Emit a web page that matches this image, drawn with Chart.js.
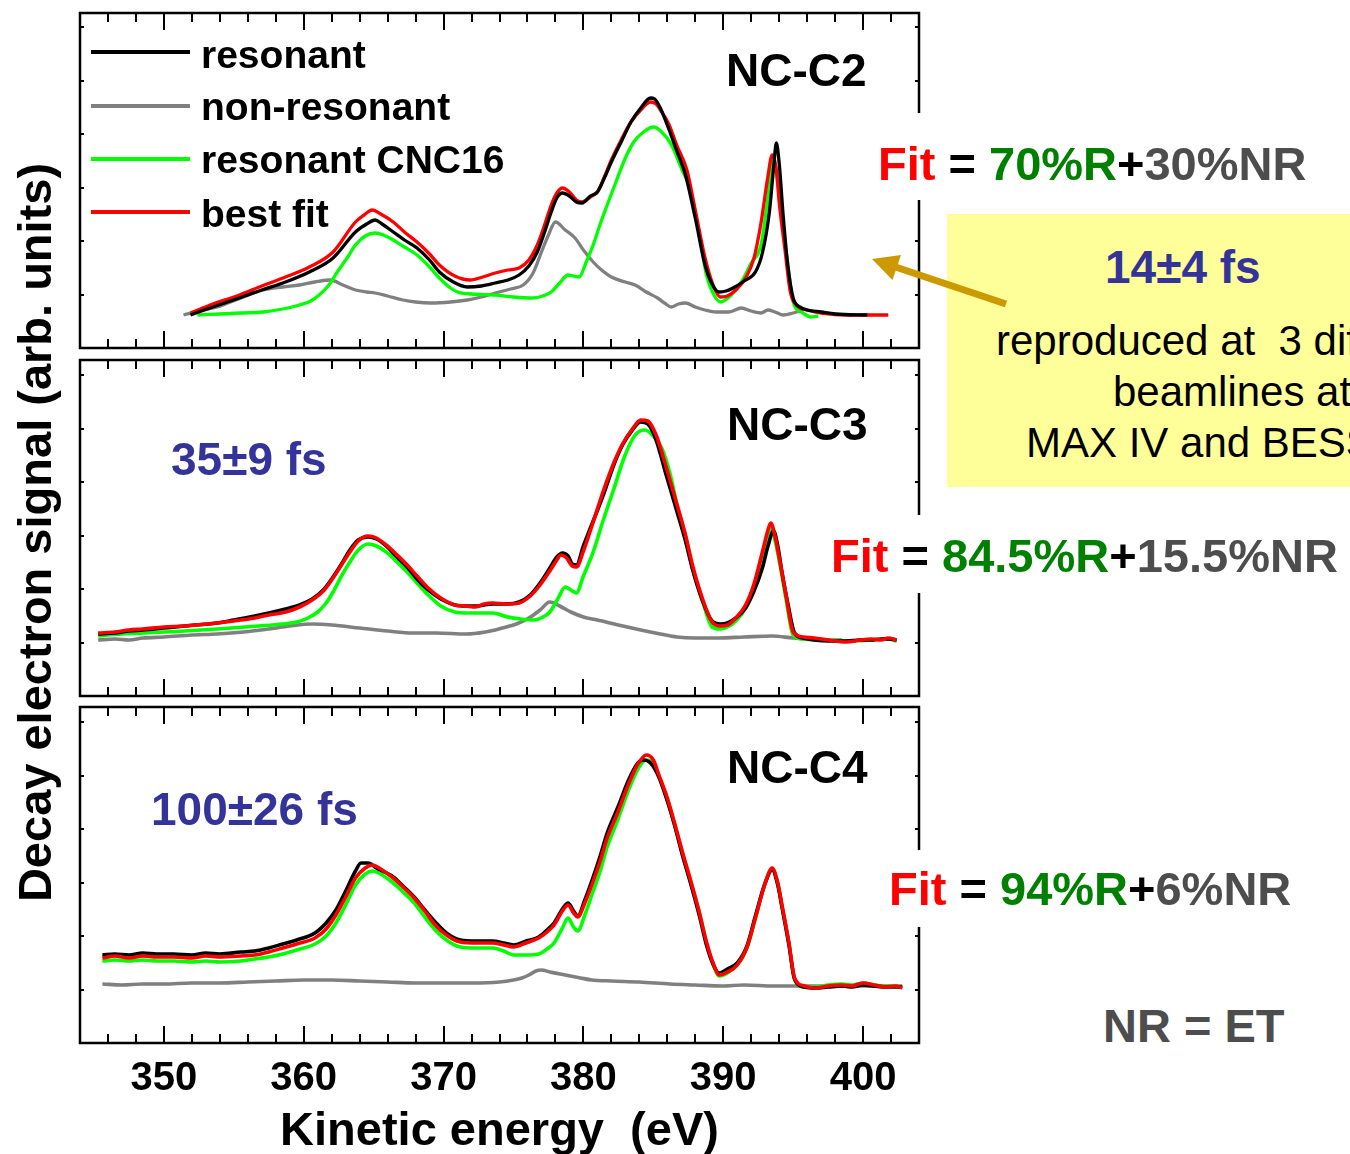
<!DOCTYPE html>
<html>
<head>
<meta charset="utf-8">
<script src="https://cdn.jsdelivr.net/npm/chart.js@4.4.1/dist/chart.umd.min.js"></script>
<style>
  html, body { margin: 0; padding: 0; background: #fff; }
  body { width: 1350px; height: 1154px; position: relative; overflow: hidden;
         font-family: "Liberation Sans", Arial, sans-serif; }
  canvas { position: absolute; }
  .t { position: absolute; white-space: pre; line-height: 1; }
  .b { font-weight: bold; }
  .blue { color: #333399; }
  .red { color: #ff0000; }
  .green { color: #008000; }
  .grey { color: #4d4d4d; }
  .white { position: absolute; background: #fff; }
  .key { position: absolute; left: 91px; width: 99px; height: 4px; }
</style>
</head>
<body>

<canvas id="c2" width="845" height="341" style="left:77px;top:10px"></canvas>
<canvas id="c3" width="845" height="342" style="left:77px;top:357px"></canvas>
<canvas id="c4" width="845" height="399" style="left:77px;top:704px"></canvas>

<!-- legend of the top panel -->
<div class="key" style="top:50px;background:#000"></div>
<div class="key" style="top:104px;background:#808080"></div>
<div class="key" style="top:157px;background:#00ff00"></div>
<div class="key" style="top:210px;background:#ff0000"></div>
<div class="t b" style="font-size:39px;left:201px;top:35px">resonant</div>
<div class="t b" style="font-size:39px;left:201px;top:87px">non-resonant</div>
<div class="t b" style="font-size:39px;left:201px;top:140px">resonant CNC16</div>
<div class="t b" style="font-size:39px;left:201px;top:194px">best fit</div>

<div class="t b" style="font-size:46px;left:726px;top:47px">NC-C2</div>
<div class="t b" style="font-size:46px;left:727px;top:401px">NC-C3</div>
<div class="t b" style="font-size:46px;left:727px;top:744px">NC-C4</div>

<div class="t b blue" style="font-size:46px;left:171px;top:436px">35±9 fs</div>
<div class="t b blue" style="font-size:46px;left:151px;top:786px">100±26 fs</div>

<!-- fit fractions, on white so they break the right frame -->
<div class="white" style="left:905px;top:113px;width:445px;height:87px"></div>
<div class="white" style="left:905px;top:515px;width:445px;height:78px"></div>
<div class="white" style="left:905px;top:850px;width:445px;height:77px"></div>
<div class="t b" style="font-size:47px;left:878px;top:140px"><span class="red">Fit</span> = <span class="green">70%R</span>+<span class="grey">30%NR</span></div>
<div class="t b" style="font-size:47px;left:831px;top:532px"><span class="red">Fit</span> = <span class="green">84.5%R</span>+<span class="grey">15.5%NR</span></div>
<div class="t b" style="font-size:47px;left:889px;top:865px"><span class="red">Fit</span> = <span class="green">94%R</span>+<span class="grey">6%NR</span></div>
<div class="t b grey" style="font-size:47px;left:1103px;top:1002px">NR = ET</div>

<!-- note box -->
<div style="position:absolute;left:947px;top:214px;width:420px;height:273px;background:#ffff99"></div>
<div class="t b blue" style="font-size:46px;left:1105px;top:244px">14±4 fs</div>
<div class="t" style="font-size:42px;left:996px;top:320px">reproduced at  3 different</div>
<div class="t" style="font-size:42px;left:1113px;top:371px">beamlines at</div>
<div class="t" style="font-size:42px;left:1026px;top:422px">MAX IV and BESSY</div>

<svg width="1350" height="1154" style="position:absolute;left:0;top:0">
  <line x1="1006" y1="304" x2="894" y2="266.5" stroke="#cc9900" stroke-width="7"/>
  <polygon points="872,259 901,255 892.5,280" fill="#cc9900"/>
</svg>

<div class="t b" style="font-size:47px;width:800px;height:47px;line-height:47px;text-align:center;left:-366px;top:509px;transform:rotate(-90deg)">Decay electron signal (arb. units)</div>
<div class="t b" style="font-size:47px;width:999px;text-align:center;left:0;top:1105px">Kinetic energy  (eV)</div>

<script>
// kinetic energy window shared by all panels (eV)
const eMin = 344;
const eMax = 404;
const tickLabels = [350, 360, 370, 380, 390, 400];

// NC-C2: [kinetic energy (eV), signal (arb. units)]
const c2Resonant = [[351.9,33],[353.5,41],[355.4,50],[357,58],[358.7,66],[360.4,76],[362.1,90],[363.7,116],[364.5,124],[365.1,128],[365.6,124],[366.4,116],[367.2,108],[368.1,100],[369,88],[369.7,76],[370.7,66],[371.7,61],[372.7,62],[373.7,65],[374.6,68],[375.4,73],[376.1,82],[376.7,96],[377.2,115],[377.7,136],[378.1,150],[378.5,155],[379,152],[379.5,146],[379.9,145],[380.5,152],[381,156],[381.5,170],[382,186],[382.7,206],[383.4,226],[384.1,240],[384.8,250],[385.1,249],[385.5,240],[386,223],[386.6,200],[387.3,173],[388,130],[388.7,83],[389.2,64],[389.7,56],[390.2,57],[390.7,60],[391.5,67],[392.3,76],[392.8,95],[393.3,136],[393.6,180],[393.8,205],[394,185],[394.3,130],[394.6,85],[395,50],[395.5,41],[396,38],[397,36],[398,34],[400.3,33]];
const c2NonRes = [[351.4,33],[352.5,37],[353.8,41],[355.5,50],[357.1,58],[358.5,61],[359.7,63],[360.8,66],[361.9,68],[362.8,63],[363.7,58],[364.5,56],[365.1,55],[366,52],[367.1,48],[368,46],[369.1,45],[370.5,46],[371.7,48],[372.7,51],[373.7,55],[374.8,59],[375.7,63],[376.4,75],[377,96],[377.5,113],[378,126],[378.7,118],[379.4,110],[380,98],[380.7,86],[381.3,78],[382,71],[383,66],[383.7,63],[384.5,56],[385.3,50],[385.8,45],[386.3,41],[386.8,44],[387.3,45],[388,41],[388.7,38],[389.5,36],[390.4,36],[391.3,40],[392,37],[392.7,35],[393.2,38],[393.7,36],[394.3,33],[395,35],[395.7,38]];
const c2Cnc16 = [[352.4,33],[354,34],[355.5,35],[357.1,36],[358.5,39],[359.7,43],[360.5,47],[361.1,53],[361.8,63],[362.4,76],[363.1,90],[363.7,103],[364.4,112],[365.1,115],[365.7,113],[366.4,108],[367.2,101],[368.1,93],[369,81],[369.7,70],[370.4,61],[371,56],[372,54],[373.7,53],[375,51],[376.4,50],[377.1,52],[377.7,56],[378.3,65],[378.9,73],[379.3,72],[379.7,71],[380.2,86],[380.7,103],[381.2,124],[381.7,143],[382.3,165],[383,190],[383.6,206],[384.3,216],[385,221],[385.6,216],[386.3,203],[387,180],[387.7,156],[388.2,120],[388.8,73],[389.3,54],[389.8,46],[390.5,52],[391.3,66],[392,85],[392.7,103],[393.1,140],[393.6,188],[393.9,165],[394.2,130],[394.6,85],[395,46],[395.6,36],[396.3,31],[396.8,32]];
const c2Fit = [[351.9,35],[353.5,44],[355.4,53],[357,62],[358.7,71],[360.4,81],[362.1,96],[363.7,126],[364.4,134],[364.9,138],[365.5,134],[366.4,126],[367.2,116],[368.1,106],[369,94],[369.7,83],[370.8,72],[371.9,68],[372.8,71],[373.7,75],[374.6,78],[375.4,80],[376.1,88],[376.7,103],[377.2,122],[377.7,143],[378.1,155],[378.5,160],[379,156],[379.5,148],[379.9,146],[380.5,151],[381,156],[381.5,171],[382,188],[382.7,208],[383.4,226],[384.1,238],[384.8,246],[385.2,244],[385.6,236],[386.1,224],[386.7,202],[387.4,178],[388,138],[388.7,90],[389.3,62],[389.8,51],[390.3,52],[390.9,58],[391.6,70],[392.2,90],[392.7,125],[393.2,172],[393.5,193],[393.8,178],[394,146],[394.4,100],[394.8,56],[395.3,42],[396,38],[397,35],[399,33],[401.8,33]];

// NC-C3
const c3Resonant = [[345.3,62],[346.5,63],[347.5,65],[348.5,66],[350,68],[351.5,70],[353.8,73],[355,76],[356.5,80],[357.5,83],[358.7,87],[359.7,91],[360.6,97],[361.4,106],[362.1,119],[362.7,132],[363.3,146],[363.9,156],[364.6,159],[365.2,157],[365.9,150],[366.6,140],[367.4,129],[368.1,117],[368.9,106],[369.8,97],[370.8,91],[371.6,90],[372.3,90],[372.9,91],[373.5,92],[374.5,92],[375.4,94],[376.2,101],[376.9,113],[377.6,128],[378.1,139],[378.5,143],[378.9,140],[379.2,132],[379.5,131],[380,150],[380.5,168],[380.9,182],[381.4,200],[382.2,232],[382.8,251],[383.5,266],[384.1,274],[384.6,272],[385.2,256],[385.9,222],[386.7,184],[387.3,155],[387.8,127],[388.5,96],[389.2,75],[389.8,72],[390.3,73],[390.9,78],[391.6,88],[392.2,105],[392.8,128],[393.2,150],[393.6,165],[393.9,150],[394.2,124],[394.6,94],[395.1,63],[395.7,58],[396.5,56],[397.5,55],[398.8,55],[399.8,56],[400.6,56],[401.3,57],[401.8,57],[402.4,56]];
const c3NonRes = [[345.3,56],[346.5,57],[347.5,56],[348.5,58],[350,59],[352,61],[353.8,62],[355.7,64],[357.5,67],[359,70],[360.6,72],[362,71],[364,68],[366,65],[367.8,63],[369.5,63],[371.6,62],[373,64],[374.2,68],[375.2,72],[376.1,78],[376.9,86],[377.6,94],[378.3,90],[379.1,84],[380,79],[381,76],[382.5,71],[384.1,66],[385.5,62],[386.7,59],[388,58],[389.7,58],[391.5,59],[393.5,60],[395,58],[397.3,56],[398.5,56]];
const c3Cnc16 = [[345.3,60],[347,62],[348.5,63],[350,64],[351.5,65],[353.8,67],[356.8,70],[358.5,72],[359.5,74],[360.3,78],[361,84],[361.6,93],[362.1,104],[362.7,120],[363.3,134],[363.9,146],[364.6,152],[365.2,150],[365.9,144],[366.6,135],[367.4,124],[368.1,113],[368.9,101],[369.8,90],[370.8,84],[371.8,83],[372.7,83],[373.5,83],[374.6,79],[375.5,77],[376.5,76],[377.1,79],[377.6,84],[378.2,98],[378.7,109],[379.1,106],[379.5,103],[380,120],[380.7,144],[381.4,175],[382.2,208],[382.9,238],[383.7,261],[384.4,266],[385,260],[385.6,248],[386.2,222],[386.7,191],[387.3,160],[387.8,128],[388.5,96],[389.2,69],[389.8,67],[390.3,69],[390.9,75],[391.6,88],[392.2,110],[392.8,138],[393.2,160],[393.4,168],[393.7,156],[394.1,128],[394.5,96],[395,61],[395.7,57],[397.3,56],[399,55],[400.5,56],[401.8,57],[402.4,55]];
const c3Fit = [[345.3,63],[346.5,64],[347.5,66],[348.5,67],[350,69],[351.5,70],[353.8,73],[355,75],[356.5,78],[357.5,81],[358.7,84],[359.7,89],[360.6,96],[361.4,105],[362.1,118],[362.7,131],[363.3,144],[363.9,155],[364.6,160],[365.2,158],[365.9,151],[366.6,142],[367.4,131],[368.1,120],[368.9,108],[369.8,98],[370.8,91],[371.6,90],[372.3,89],[372.9,92],[373.5,93],[374.5,92],[375.4,93],[376.2,100],[376.9,111],[377.6,125],[378.1,136],[378.4,141],[378.8,138],[379.2,130],[379.5,129],[380,145],[380.7,174],[381.4,204],[382.2,234],[382.8,252],[383.5,267],[384.1,276],[384.6,275],[385.2,261],[385.9,230],[386.7,191],[387.3,161],[387.8,131],[388.5,98],[389.2,74],[389.8,70],[390.3,71],[390.9,78],[391.6,91],[392.2,112],[392.8,144],[393.2,166],[393.4,173],[393.7,160],[394.1,131],[394.5,100],[395,64],[395.7,59],[396.5,58],[397.5,56],[398.8,54],[399.8,56],[400.6,57],[401.3,56],[401.8,58],[402.4,56]];

// NC-C4
const c4Resonant = [[345.6,88],[346.5,89],[347.5,88],[348.5,90],[349.5,89],[350.7,89],[352,88],[353,90],[354,89],[355.5,91],[356.5,92],[357.5,95],[358.5,99],[359.5,103],[360.8,110],[361.6,120],[362.3,133],[363,152],[363.7,172],[364.1,180],[364.6,180],[365.2,175],[366.4,166],[367.1,157],[367.9,146],[368.6,134],[369.4,121],[370.3,109],[371.2,103],[372.3,102],[373.5,102],[374.3,100],[375,98],[375.9,102],[376.8,106],[377.4,113],[377.9,120],[378.5,134],[378.9,140],[379.3,132],[379.6,127],[380.1,143],[380.6,162],[381.2,187],[381.7,210],[382.5,237],[383.2,262],[383.9,280],[384.3,283],[384.8,280],[385.4,266],[386,242],[386.5,219],[387.1,187],[387.7,158],[388.3,127],[388.8,98],[389.3,78],[389.7,70],[390.3,74],[391,80],[391.7,97],[392.3,127],[393,160],[393.5,173],[393.9,158],[394.2,136],[394.7,98],[395.1,64],[395.8,56],[396.6,55],[397.5,56],[398.5,57],[399.2,56],[400,58],[400.8,57],[401.6,56],[402.3,56],[402.8,56]];
const c4NonRes = [[345.6,59],[347,58],[348.5,59],[350,59],[352,60],[354,60],[356,61],[358,62],[360,63],[362,63],[364,62],[366,61],[368,60],[370,60],[372,60],[374,61],[375,63],[375.6,65],[376.1,68],[376.6,72],[377,73],[377.6,71],[378.7,68],[379.8,65],[380.6,63],[382,62],[384,61],[386.2,59],[388,58],[389.9,57],[391.5,58],[393.6,57],[395.5,57],[397,57],[399,57],[401,57],[402.8,57]];
const c4Cnc16 = [[345.6,82],[346.5,83],[347.5,82],[348.5,83],[349.5,82],[350.7,82],[352,81],[353,82],[354,81],[355.5,82],[356.5,84],[357.5,86],[358.5,89],[359.5,93],[360.8,99],[361.6,107],[362.3,120],[363,138],[363.7,158],[364.4,169],[364.9,172],[365.5,169],[366.4,160],[367.1,151],[367.9,140],[368.6,127],[369.4,113],[370.3,102],[371.2,96],[372.3,95],[373.5,95],[374.3,92],[375,88],[375.9,88],[376.8,89],[377.4,94],[377.9,100],[378.5,115],[378.9,125],[379.3,116],[379.6,112],[380.1,128],[380.6,148],[381.2,172],[381.7,196],[382.5,225],[383.2,252],[383.9,274],[384.5,283],[385,280],[385.4,266],[386,244],[386.5,219],[387.1,189],[387.7,160],[388.3,130],[388.8,100],[389.3,78],[389.7,67],[390.3,70],[391,78],[391.7,95],[392.3,125],[393,160],[393.5,174],[393.9,160],[394.2,137],[394.7,99],[395.1,64],[395.8,56],[396.6,56],[397.5,58],[398.5,59],[399.2,58],[400,60],[400.8,58],[401.6,57],[402.3,57],[402.8,56]];
const c4Fit = [[345.6,85],[346.5,87],[347.5,85],[348.5,87],[349.5,86],[350.7,86],[352,85],[353,87],[354,86],[355.5,87],[356.5,88],[357.5,91],[358.5,95],[359.5,99],[360.8,105],[361.6,114],[362.3,128],[363,146],[363.7,165],[364.4,175],[364.9,178],[365.5,174],[366.4,165],[367.1,156],[367.9,145],[368.6,133],[369.4,118],[370.3,107],[371.2,101],[372.3,100],[373.5,100],[374.3,98],[375,96],[375.9,100],[376.8,105],[377.4,111],[377.9,118],[378.5,132],[378.9,138],[379.3,130],[379.6,126],[380.1,140],[380.6,158],[381.2,182],[381.7,205],[382.5,232],[383.2,258],[383.9,279],[384.5,288],[385,283],[385.4,268],[386,245],[386.5,221],[387.1,190],[387.7,161],[388.3,130],[388.8,101],[389.3,79],[389.7,68],[390.3,71],[391,78],[391.7,96],[392.3,125],[393,160],[393.5,175],[393.9,160],[394.2,138],[394.7,100],[395.1,65],[395.8,57],[396.6,55],[397.5,57],[398.5,58],[399.2,57],[400,60],[400.8,58],[401.6,56],[402.3,57],[402.8,55]];

const FONT = '"Liberation Sans", Arial, sans-serif';

// closed frame with inward ticks on all four sides
const frameTicks = {
  id: 'frameTicks',
  afterDatasetsDraw(chart) {
    const { ctx, chartArea: a, scales: { x, y } } = chart;
    ctx.save();
    ctx.strokeStyle = '#000';
    ctx.lineWidth = 2.5;
    ctx.strokeRect(a.left, a.top, a.right - a.left, a.bottom - a.top);
    ctx.lineWidth = 2;
    ctx.beginPath();
    for (let e = eMin; e <= eMax; e += 2) {
      const px = Math.round(x.getPixelForValue(e));
      const len = e % 10 === 0 ? 17 : 9;
      ctx.moveTo(px, a.top); ctx.lineTo(px, a.top + len);
      ctx.moveTo(px, a.bottom); ctx.lineTo(px, a.bottom - len);
    }
    for (let v = 53.5; v < y.max; v += 53.5) {
      const py = Math.round(y.getPixelForValue(v));
      ctx.moveTo(a.left, py); ctx.lineTo(a.left + 4, py);
      ctx.moveTo(a.right, py); ctx.lineTo(a.right - 4, py);
    }
    ctx.stroke();
    ctx.restore();
  }
};

const toXY = (arr) => arr.map(([x, y]) => ({ x, y }));

const series = (label, arr, color, order, width) => ({
  label: label,
  data: toXY(arr),
  borderColor: color,
  borderWidth: width,
  pointRadius: 0,
  cubicInterpolationMode: 'monotone',
  order: order,
});

const buildPanel = (id, datasets, yMax, withAxis) => {
  const xScale = {
    type: 'linear',
    min: eMin,
    max: eMax,
    display: withAxis,
    grid: { display: false, drawTicks: false },
    border: { display: false },
    ticks: {
      stepSize: 2,
      autoSkip: false,
      maxRotation: 0,
      padding: 12,
      color: '#000',
      font: { family: FONT, size: 40, weight: 'bold' },
      callback: (v) => (tickLabels.includes(v) ? String(v) : ''),
    },
  };
  if (withAxis) {
    // fixed label band, and no side padding so the frame keeps its width
    xScale.afterFit = (scale) => {
      scale.height = 60;
      scale.paddingLeft = 0;
      scale.paddingRight = 0;
    };
  }
  return new Chart(document.getElementById(id), {
    type: 'line',
    data: { datasets: datasets },
    options: {
      responsive: false,
      animation: false,
      layout: { padding: { left: 3, right: 3, top: 3, bottom: withAxis ? 0 : 3 } },
      plugins: { legend: { display: false }, tooltip: { enabled: false } },
      scales: {
        x: xScale,
        y: { min: 0, max: yMax, display: false },
      },
    },
    plugins: [frameTicks],
  });
};

buildPanel('c2', [
  series('resonant', c2Resonant, '#000000', 0, 3.3),
  series('best fit', c2Fit, '#ff0000', 1, 3.3),
  series('resonant CNC16', c2Cnc16, '#00ff00', 2, 3.3),
  series('non-resonant', c2NonRes, '#808080', 3, 3.3),
], 335, false);

buildPanel('c3', [
  series('best fit', c3Fit, '#ff0000', 0, 3.6),
  series('resonant', c3Resonant, '#000000', 1, 3.6),
  series('resonant CNC16', c3Cnc16, '#00ff00', 2, 3.6),
  series('non-resonant', c3NonRes, '#808080', 3, 3.6),
], 336, false);

buildPanel('c4', [
  series('best fit', c4Fit, '#ff0000', 0, 3.6),
  series('resonant', c4Resonant, '#000000', 1, 3.6),
  series('resonant CNC16', c4Cnc16, '#00ff00', 2, 3.6),
  series('non-resonant', c4NonRes, '#808080', 3, 3.6),
], 336, true);
</script>
</body>
</html>
